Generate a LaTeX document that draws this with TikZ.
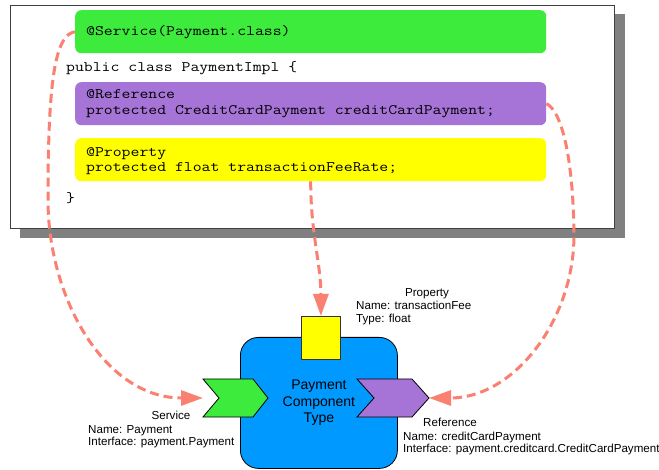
\documentclass[tikz,border=0pt]{standalone}
\usepackage{fontspec}
\setmainfont{Liberation Sans}
\setmonofont[FakeStretch=1.19]{Latin Modern Mono}
\usetikzlibrary{arrows.meta}

\definecolor{annogreen}{RGB}{61,235,61}
\definecolor{annopurple}{RGB}{166,115,215}
\definecolor{annoyellow}{RGB}{255,255,0}
\definecolor{compblue}{RGB}{0,153,255}
\definecolor{wire}{RGB}{250,128,114}
\definecolor{shadowgray}{RGB}{128,128,128}

\begin{document}
\begin{tikzpicture}[
    x=1pt,y=-1pt,
    anno/.style={rectangle,rounded corners=6pt,minimum width=471pt,
                 minimum height=43pt,inner sep=0pt,anchor=north west},
    code/.style={anchor=base west,inner sep=0pt,font=\fontsize{14.5}{16}\ttfamily},
    port/.style={draw=black,line width=0.8pt,line join=miter},
    lbl/.style={anchor=base west,inner sep=0pt,font=\fontsize{11.6}{13}\selectfont},
    wiring/.style={draw=wire,line width=3pt,dash pattern=on 9pt off 5pt,
                   -{Triangle[length=22pt,width=15pt]}}
  ]
  \useasboundingbox (0,0) rectangle (659,470);

  % code panel with its drop shadow
  \fill[shadowgray] (20,14) rectangle (625,238);
  \node[draw=black!75,fill=white,line width=1pt,minimum width=604pt,
        minimum height=223pt,inner sep=0pt,anchor=north west] (panel) at (10,5) {};

  \node[anno,fill=annogreen]  (svcanno)  at (75,10)  {};
  \node[anno,fill=annopurple] (refanno)  at (75,82)  {};
  \node[anno,fill=annoyellow] (propanno) at (75,138) {};

  \node[code] (svcline)   at (86,36)  {@Service(Payment.class)};
  \node[code] (classline) at (66,72)  {public class PaymentImpl \{};
  \node[code] (refline)   at (86,99)  {@Reference};
  \node[code] (reffield)  at (86,115) {protected CreditCardPayment creditCardPayment;};
  \node[code] (propline)  at (86,157) {@Property};
  \node[code] (propfield) at (86,172) {protected float transactionFeeRate;};
  \node[code] (closeline) at (66,203) {\}};

  % component type
  \node[draw=black,fill=compblue,line width=0.8pt,rounded corners=18pt,
        minimum width=157pt,minimum height=131pt,anchor=north west,inner sep=0pt,
        align=center,font=\fontsize{14}{16.5}\selectfont]
        (comp) at (240,337) {Payment\\Component\\Type};
  \node[port,draw=black!80,fill=annoyellow,minimum width=39pt,minimum height=43pt,
        inner sep=0pt,anchor=north west] (propport) at (301,316) {};

  % service and reference chevrons
  \draw[port,fill=annogreen] (203,379) -- (253,379) -- (268,398) -- (253,417)
    -- (203,417) -- (219,398) -- cycle;
  \coordinate (svcin) at (203,398);
  \draw[port,fill=annopurple] (357,379) -- (412,379) -- (429,398) -- (412,417)
    -- (357,417) -- (374,398) -- cycle;
  \coordinate (refin) at (429,398);

  % labels
  \node[lbl,anchor=base] (proptitle) at (427,297) {Property};
  \node[lbl] (propname) at (356,310) {Name: transactionFee};
  \node[lbl] (proptype) at (356,323) {Type: float};

  \node[lbl,anchor=base] (svctitle) at (171,420) {Service};
  \node[lbl] (svcname) at (88,433) {Name: Payment};
  \node[lbl] (svcif)   at (88,446) {Interface: payment.Payment};

  \node[lbl,anchor=base] (reftitle) at (450,427) {Reference};
  \node[lbl] (refname) at (403,440) {Name: creditCardPayment};
  \node[lbl] (refif)   at (403,452) {Interface: payment.creditcard.CreditCardPayment};

  % wiring from annotations to the component
  \coordinate (svcbend) at (48,200);
  \coordinate (refbend) at (574,235);
  \draw[wiring] (svcanno.west) .. controls (55,35) and (48,80) .. (svcbend)
    to[out=-90,in=180] (svcin);
  \draw[wiring] (refanno.east) .. controls (560,110) and (573,150) .. (refbend)
    to[out=-90,in=0] (refin);
  \draw[wiring] (propanno.south) to[out=-90,in=90] (propport.north);
\end{tikzpicture}
\end{document}
